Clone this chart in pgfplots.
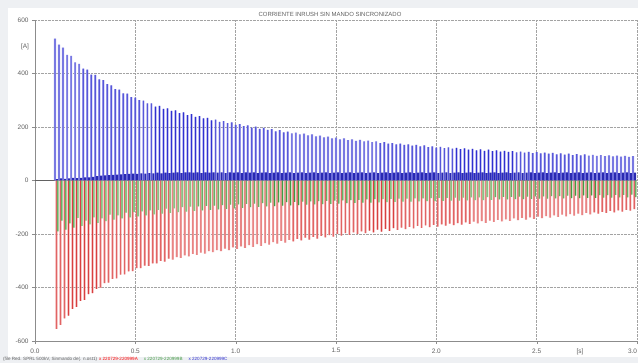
\documentclass[border=0pt]{standalone}
\usepackage{pgfplots}
\pgfplotsset{compat=1.18}
\usepackage{pgfplotstable}
\usepackage{fontspec}
\setmainfont{Liberation Sans}
\definecolor{bgg}{HTML}{EEF0F3}
\definecolor{axg}{HTML}{8C8C8C}
\definecolor{txg}{HTML}{606060}
\definecolor{bl}{HTML}{3030D0}
\definecolor{bll}{HTML}{A0A0EC}
\definecolor{rd}{HTML}{D84040}
\definecolor{rdl}{HTML}{F2AAAA}
\definecolor{gr}{HTML}{449A44}
\definecolor{grl}{HTML}{B0D8A8}
\pgfplotstableread{
t b r g z
0.10 530 -555 -190 5
0.12 508 -540 -150 8
0.14 497 -515 -184 6
0.16 470 -505 -160 8
0.18 466 -480 -176 10
0.20 442 -472 -140 9
0.22 436 -450 -170 10
0.24 418 -446 -150 12
0.26 414 -425 -164 12
0.28 396 -421 -138 14
0.30 395 -405 -158 16
0.32 378 -400 -142 18
0.34 375 -384 -152 19
0.36 360 -382 -128 20
0.38 356 -368 -146 21
0.40 342 -366 -130 22
0.42 340 -352 -142 23
0.44 326 -351 -120 24
0.46 325 -340 -138 25
0.48 312 -339 -118 26
0.50 310 -328 -134 25
0.52 300 -328 -115 27
0.54 299 -318 -130 26
0.56 288 -319 -112 28
0.58 288 -310 -127 27
0.60 276 -310 -110 29
0.62 279 -300 -124 27
0.64 268 -303 -105 29
0.66 270 -292 -121 28
0.68 260 -296 -104 29
0.70 262 -286 -118 30
0.72 252 -289 -100 28
0.74 255 -280 -116 30
0.76 244 -284 -98 30
0.78 248 -274 -114 29
0.80 238 -278 -97 30
0.82 241 -270 -112 28
0.84 232 -273 -95 30
0.86 234 -264 -110 29
0.88 225 -268 -94 30
0.90 228 -260 -108 29
0.92 219 -264 -92 30
0.94 222 -255 -106 28
0.96 214 -260 -90 30
0.98 217 -250 -104 29
1.00 208 -256 -89 30
1.02 211 -246 -102 28
1.04 203 -252 -87 30
1.06 206 -242 -100 29
1.08 198 -248 -86 30
1.10 201 -238 -99 28
1.12 193 -244 -85 29
1.14 197 -234 -97 30
1.16 189 -240 -83 28
1.18 192 -230 -96 29
1.20 184 -236 -82 30
1.22 188 -226 -94 28
1.24 180 -232 -81 29
1.26 183 -222 -93 30
1.28 176 -228 -80 28
1.30 179 -218 -92 29
1.32 172 -224 -79 30
1.34 175 -214 -90 28
1.36 169 -221 -78 29
1.38 172 -211 -89 30
1.40 165 -217 -77 28
1.42 168 -207 -88 29
1.44 161 -213 -76 30
1.46 164 -204 -87 28
1.48 157 -210 -75 29
1.50 160 -200 -86 30
1.52 154 -206 -74 28
1.54 157 -197 -85 29
1.56 151 -203 -73 30
1.58 154 -194 -84 28
1.60 148 -200 -72 29
1.62 152 -190 -83 30
1.64 146 -197 -71 28
1.66 149 -187 -83 29
1.68 143 -194 -70 30
1.70 146 -184 -82 28
1.72 140 -191 -70 29
1.74 143 -181 -81 30
1.76 138 -188 -69 28
1.78 140 -178 -80 29
1.80 135 -185 -68 30
1.82 138 -176 -79 28
1.84 133 -182 -68 29
1.86 135 -173 -79 30
1.88 130 -179 -67 28
1.90 133 -170 -78 29
1.92 128 -177 -67 30
1.94 131 -168 -77 28
1.96 125 -174 -66 29
1.98 128 -166 -77 30
2.00 123 -172 -65 28
2.02 126 -164 -76 29
2.04 121 -169 -65 30
2.06 124 -161 -75 28
2.08 119 -167 -64 29
2.10 122 -159 -75 30
2.12 117 -165 -64 28
2.14 120 -157 -74 29
2.16 115 -162 -63 30
2.18 118 -154 -73 28
2.20 113 -160 -63 29
2.22 116 -152 -73 30
2.24 111 -158 -62 28
2.26 115 -150 -72 29
2.28 110 -155 -62 30
2.30 113 -147 -71 28
2.32 108 -153 -61 29
2.34 111 -145 -71 30
2.36 107 -151 -61 28
2.38 110 -142 -70 29
2.40 105 -148 -60 30
2.42 108 -140 -70 28
2.44 104 -146 -60 29
2.46 107 -138 -69 30
2.48 102 -143 -59 28
2.50 106 -135 -68 29
2.52 101 -141 -59 30
2.54 104 -133 -68 28
2.56 100 -139 -58 29
2.58 103 -130 -67 30
2.60 98 -136 -58 28
2.62 101 -128 -67 29
2.64 97 -134 -57 30
2.66 100 -126 -66 28
2.68 95 -131 -57 29
2.70 99 -124 -66 30
2.72 94 -129 -56 28
2.74 98 -121 -65 29
2.76 93 -127 -56 30
2.78 96 -119 -65 28
2.80 92 -124 -55 29
2.82 95 -117 -64 30
2.84 91 -121 -55 28
2.86 94 -114 -64 29
2.88 90 -119 -54 30
2.90 93 -112 -63 28
2.92 89 -116 -54 29
2.94 92 -110 -63 30
2.96 88 -113 -53 28
2.98 91 -107 -62 29
}\spikes
\begin{document}
\begin{tikzpicture}[x=1bp,y=1bp]
\useasboundingbox (-35,-22) rectangle (603,341);
\fill[bgg] (-35,-22) rectangle (603,341);
\fill[white] (-27,-16) rectangle (603,333);
\begin{axis}[
  at={(0,0)}, anchor=south west,
  width=602bp, height=321bp, scale only axis,
  xmin=0, xmax=3, ymin=-600, ymax=600,
  axis x line=bottom, axis y line=left,
  axis line style={axg, -},
  xtick={0,0.5,1,1.5,2,2.5,3},
  xticklabels={0.0,0.5,1.0,1.5,2.0,2.5,\llap{3.0}},
  ytick={-600,-400,-200,0,200,400,600},
  tick align=outside, major tick length=3bp,
  tick style={axg},
  grid=major,
  major grid style={axg!80, densely dotted, line width=0.5pt},
  ticklabel style={font=\fontsize{6.5}{7}\selectfont, text=txg},
  /pgf/number format/assume math mode=true,
  yticklabel style={/pgf/number format/.cd, fixed, precision=0},
  xticklabel shift=1bp,
  clip=true,
  ybar, bar shift=0pt,
]
\draw[axg!70!black, line width=0.5pt] (axis cs:0,0) -- (axis cs:3,0);
\addplot[fill=rdl, draw=none, bar width=2.2bp] table[x expr=\thisrow{t}+0.0067, y=r] {\spikes};
\addplot[fill=grl, draw=none, bar width=2.2bp] table[x expr=\thisrow{t}+0.0133, y=g] {\spikes};
\addplot[fill=bll, draw=none, bar width=2.2bp] table[x=t, y=b] {\spikes};
\addplot[fill=rd, draw=none, bar width=0.6bp] table[x expr=\thisrow{t}+0.0067, y=r] {\spikes};
\addplot[fill=gr, draw=none, bar width=0.6bp] table[x expr=\thisrow{t}+0.0133, y=g] {\spikes};
\addplot[fill=bl, draw=none, bar width=0.7bp] table[x=t, y=b] {\spikes};
\addplot[fill=bl!85!black, draw=none, bar width=2.2bp] table[x expr=\thisrow{t}+0.01, y=z] {\spikes};
\end{axis}
\node[font=\fontsize{6}{7}\selectfont, text=txg] at (295,327) {CORRIENTE INRUSH SIN MANDO SINCRONIZADO};
\node[font=\fontsize{6.5}{7}\selectfont, text=txg] at (-10,294) {[A]};
\node[font=\fontsize{6.5}{7}\selectfont, text=txg] at (545,-11) {[s]};
\node[anchor=west, font=\fontsize{4.6}{5}\selectfont, text=txg, inner sep=0pt] at (-32,-18.5)
  {(file Red. SPRL 500kV, Sinmando de(. n.ost1)\hspace{2bp}\textcolor{red}{x 220729-220999A}\hspace{6bp}\textcolor{gr}{x 220729-220999B}\hspace{6bp}\textcolor{bl}{x 220729-220999C}};
\end{tikzpicture}
\end{document}
